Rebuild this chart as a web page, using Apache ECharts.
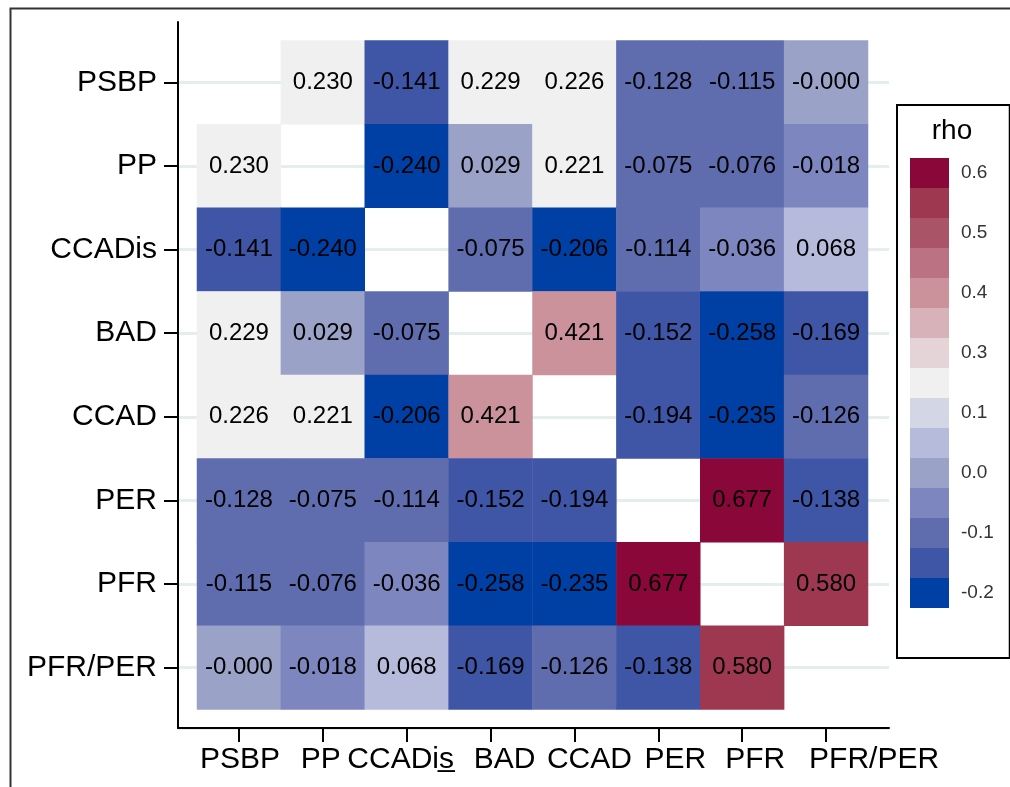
<!DOCTYPE html>
<html><head><meta charset="utf-8">
<script src="https://cdn.jsdelivr.net/npm/echarts@6/dist/echarts.min.js"></script>
<style>html,body{margin:0;padding:0;background:#fff}#c{width:1010px;height:787px}</style>
</head><body><div id="c"></div>
<script>
// ---- data ----
const variables = ['PSBP', 'PP', 'CCADis', 'BAD', 'CCAD', 'PER', 'PFR', 'PFR/PER'];
const xTickLabels = ['PSBP', 'PP', 'CCADi\u0073\u0332', 'BAD', 'CCAD', 'PER', 'PFR', 'PFR/PER'];
const rhoPSBP   = [null, 0.230, -0.141, 0.229, 0.226, -0.128, -0.115, -0.0004];
const rhoPP     = [0.230, null, -0.240, 0.029, 0.221, -0.075, -0.076, -0.018];
const rhoCCADis = [-0.141, -0.240, null, -0.075, -0.206, -0.114, -0.036, 0.068];
const rhoBAD    = [0.229, 0.029, -0.075, null, 0.421, -0.152, -0.258, -0.169];
const rhoCCAD   = [0.226, 0.221, -0.206, 0.421, null, -0.194, -0.235, -0.126];
const rhoPER    = [-0.128, -0.075, -0.114, -0.152, -0.194, null, 0.677, -0.138];
const rhoPFR    = [-0.115, -0.076, -0.036, -0.258, -0.235, 0.677, null, 0.580];
const rhoPFRPER = [-0.0004, -0.018, 0.068, -0.169, -0.126, -0.138, 0.580, null];
const rhoRows = [rhoPSBP, rhoPP, rhoCCADis, rhoBAD, rhoCCAD, rhoPER, rhoPFR, rhoPFRPER];

// colour scale (low -> high)
const binEdges = [-1, -0.1957, -0.1333, -0.0710, -0.0087, 0.0537, 0.1160, 0.1783, 0.2407,
                  0.3030, 0.3653, 0.4277, 0.4900, 0.5523, 0.6147, 1];
const binColors = ['#0040a5', '#3f55a5', '#5f6dae', '#7e86bf', '#9aa2c8', '#b6badb', '#d2d6e5',
                   '#f0f0f0', '#e5d4d7', '#d8b2b9', '#cc929c', '#bb7282', '#aa5468', '#9e3850', '#8a0839'];
const binLabels = ['-0.2', ' ', '-0.1', ' ', '0.0', ' ', '0.1', ' ', '0.3', ' ', '0.4', ' ', '0.5', ' ', '0.6'];

// ---- build ----
const heatData = [];
rhoRows.forEach((row, yi) => row.forEach((v, xi) => { if (v !== null) heatData.push([xi, yi, v]); }));
const pieces = binColors.map((c, i) => ({ gte: binEdges[i], lt: binEdges[i + 1], color: c, label: binLabels[i] }));

// horizontal nudges of the x tick labels (px, + = right), as in the original figure
const xLabelNudge = [1, -2, -6, 14, 15, 17, 13, 48];
const xAxisData = xTickLabels.map((t, i) => {
  const d = xLabelNudge[i];
  return { value: t, textStyle: { padding: d >= 0 ? [0, 0, 0, 2 * d] : [0, -2 * d, 0, 0] } };
});

const FONT = '"Liberation Sans", Arial, Helvetica, sans-serif';
// backdrop frame: 178..889 x 22..728 ; sub-band layout for split lines at row centres
const BX = 178, BY = 22, BW = 711, BH = 706;
const NSUB = 18, PADSUB = 4, NCAT = 8 * NSUB + 2 * PADSUB;
const SUB = BH / NCAT;
const GTOP = BY + PADSUB * SUB, GH = 8 * NSUB * SUB;
const GLEFT = 197, GW = 671;
const subCats = Array.from({ length: NCAT }, () => '');

const chart = echarts.init(document.getElementById('c'), null, { renderer: 'canvas' });
chart.setOption({
  backgroundColor: '#fff',
  animation: false,
  textStyle: { fontFamily: FONT },
  title: { text: 'rho', left: 952, top: 117, textAlign: 'center', padding: 0,
           textStyle: { fontSize: 28, fontWeight: 'normal', color: '#000', fontFamily: FONT } },
  graphic: [{ type: 'rect', left: 8, top: 6, z: -10, silent: true,
              shape: { width: 1100, height: 900 },
              style: { fill: 'none', stroke: '#333', lineWidth: 2 } }],
  grid: [
    { left: GLEFT, top: GTOP, width: GW, height: GH },
    { left: BX, top: BY, width: BW, height: BH }
  ],
  xAxis: [
    { type: 'category', gridIndex: 0, data: xAxisData, position: 'bottom',
      offset: BY + BH - (GTOP + GH),
      axisLine: { show: false },
      axisTick: { show: true, alignWithLabel: true, length: 14, lineStyle: { color: '#000', width: 2 } },
      axisLabel: { interval: 0, margin: 17, fontSize: 30, color: '#000', fontFamily: FONT },
      splitLine: { show: false } },
    { type: 'value', gridIndex: 1, min: 0, max: 1,
      axisLine: { show: true, lineStyle: { color: '#000', width: 2 } },
      axisTick: { show: false }, axisLabel: { show: false }, splitLine: { show: false } }
  ],
  yAxis: [
    { type: 'category', gridIndex: 0, data: variables, inverse: true, offset: GLEFT - BX,
      axisLine: { show: false },
      axisTick: { show: true, alignWithLabel: true, length: 14, lineStyle: { color: '#000', width: 2 } },
      axisLabel: { interval: 0, margin: 21, fontSize: 30, color: '#000', fontFamily: FONT },
      splitLine: { show: false } },
    { type: 'category', gridIndex: 1, data: subCats, inverse: true,
      axisLine: { show: true, lineStyle: { color: '#000', width: 2 } },
      axisTick: { show: false }, axisLabel: { show: false },
      splitLine: { show: true, interval: (i) => (i - (PADSUB + NSUB / 2)) % NSUB === 0,
                   lineStyle: { color: '#e4efec', width: 3 } } }
  ],
  visualMap: {
    type: 'piecewise', orient: 'vertical', seriesIndex: 0,
    left: 896, top: 104,
    itemWidth: 39, itemHeight: 30, itemGap: 0, itemSymbol: 'rect', align: 'left',
    padding: [53, 16, 50, 13],
    borderColor: '#000', borderWidth: 2, backgroundColor: '#fff',
    textGap: 12, textStyle: { fontSize: 19, color: '#333', fontFamily: FONT },
    pieces: pieces, hoverLink: false, selectedMode: false
  },
  series: [{
    type: 'heatmap', xAxisIndex: 0, yAxisIndex: 0, data: heatData,
    itemStyle: { borderWidth: 0 },
    label: { show: true, fontSize: 24, color: '#000', fontFamily: FONT,
             formatter: (p) => p.value[2].toFixed(3) },
    emphasis: { disabled: true }
  }]
});
</script></body></html>
